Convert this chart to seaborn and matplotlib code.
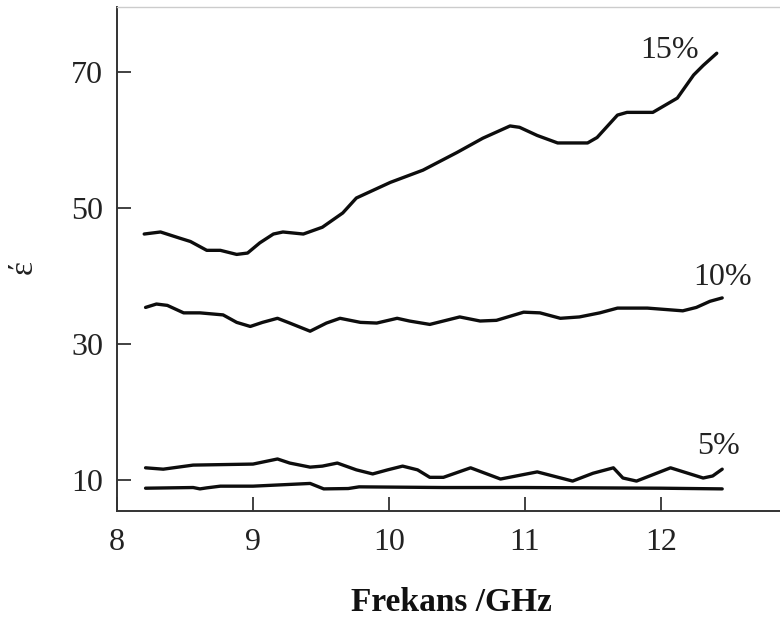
import numpy as np
import pandas as pd
import matplotlib
matplotlib.use("Agg")
import matplotlib.pyplot as plt
import seaborn as sns

# Frequency (GHz) and real permittivity for each filler ratio
freq_15 = [8.20, 8.32, 8.46, 8.54, 8.66, 8.76, 8.88, 8.96, 9.05, 9.15, 9.22, 9.37,
           9.51, 9.66, 9.76, 10.01, 10.25, 10.50, 10.69, 10.89, 10.96, 11.09,
           11.24, 11.46, 11.53, 11.68, 11.75, 11.94, 12.12, 12.24, 12.31, 12.41]
eps_15 = [46.2, 46.5, 45.6, 45.1, 43.8, 43.8, 43.2, 43.4, 44.9, 46.2, 46.5, 46.2,
          47.2, 49.3, 51.5, 53.8, 55.6, 58.2, 60.3, 62.1, 61.9, 60.7,
          59.6, 59.6, 60.4, 63.7, 64.1, 64.1, 66.2, 69.6, 71.0, 72.8]

freq_10 = [8.21, 8.29, 8.37, 8.49, 8.61, 8.78, 8.88, 8.98, 9.07, 9.18, 9.27, 9.42,
           9.54, 9.64, 9.79, 9.91, 10.06, 10.15, 10.30, 10.52, 10.67, 10.79,
           10.99, 11.11, 11.26, 11.40, 11.55, 11.68, 11.90, 12.16, 12.26, 12.36, 12.45]
eps_10 = [35.4, 35.9, 35.7, 34.6, 34.6, 34.3, 33.2, 32.6, 33.2, 33.8, 33.1, 31.9,
          33.1, 33.8, 33.2, 33.1, 33.8, 33.4, 32.9, 34.0, 33.4, 33.5,
          34.7, 34.6, 33.8, 34.0, 34.6, 35.3, 35.3, 34.9, 35.4, 36.3, 36.8]

freq_5 = [8.21, 8.34, 8.56, 9.00, 9.18, 9.27, 9.42, 9.51, 9.62, 9.76, 9.88, 9.99,
          10.10, 10.21, 10.30, 10.40, 10.60, 10.82, 11.09, 11.35, 11.50, 11.65,
          11.72, 11.82, 12.07, 12.31, 12.38, 12.45]
eps_5 = [11.8, 11.6, 12.2, 12.35, 13.1, 12.5, 11.9, 12.05, 12.5, 11.5, 10.9, 11.5,
         12.05, 11.5, 10.4, 10.4, 11.8, 10.15, 11.2, 9.85, 11.0, 11.8,
         10.3, 9.85, 11.8, 10.3, 10.6, 11.6]

freq_0 = [8.21, 8.56, 8.61, 8.66, 8.76, 9.00, 9.42, 9.52, 9.70, 9.78, 10.40,
          11.00, 11.50, 12.00, 12.45]
eps_0 = [8.8, 8.9, 8.7, 8.85, 9.1, 9.1, 9.5, 8.7, 8.75, 9.0, 8.9,
         8.9, 8.85, 8.8, 8.7]

series_names = ["15%", "10%", "5%", "0%"]
x_ticks = [8, 9, 10, 11, 12]
y_ticks = [10, 30, 50, 70]

frames = []
for name, fx, fy in zip(series_names,
                        [freq_15, freq_10, freq_5, freq_0],
                        [eps_15, eps_10, eps_5, eps_0]):
    frames.append(pd.DataFrame({"freq": fx, "eps": fy, "ratio": name}))
df = pd.concat(frames, ignore_index=True)

sns.set_style("ticks")
plt.rcParams["font.family"] = ["Liberation Serif", "DejaVu Serif"]

fig = plt.figure(figsize=(7.8, 6.22), dpi=100)
ax = fig.add_axes([0.15, 0.1785, 0.85, 0.8102])

sns.lineplot(data=df, x="freq", y="eps", units="ratio", estimator=None,
             color="#0d0d0d", linewidth=2.4, sort=False, ax=ax,
             legend=False)
for line in ax.get_lines():
    line.set_solid_joinstyle("round")
    line.set_solid_capstyle("round")

ax.set_xlim(8, 12.875)
ax.set_ylim(5.45, 79.6)
ax.set_xticks(x_ticks)
ax.set_yticks(y_ticks)
ax.tick_params(direction="in", length=10, width=1.3, colors="#333333",
               labelsize=23, labelcolor="#222222", pad=10)
ax.tick_params(axis="x", pad=12)

for side in ["left", "bottom"]:
    ax.spines[side].set_color("#333333")
    ax.spines[side].set_linewidth(1.4)
ax.spines["top"].set_color("#cccccc")
ax.spines["top"].set_linewidth(1.0)
ax.spines["right"].set_visible(False)

# Curve labels
ax.text(12.06, 73.2, "15%", fontsize=23, ha="center", va="center", color="#222222")
ax.text(12.45, 39.85, "10%", fontsize=23, ha="center", va="center", color="#222222")
ax.text(12.42, 15.0, "5%", fontsize=23, ha="center", va="center", color="#222222")

ax.set_xlabel("Frekans /GHz", fontsize=24, fontweight="bold", color="#111111")
ax.xaxis.set_label_coords(0.504, -0.15)
ax.set_ylabel("έ", fontsize=24, color="#222222")
ax.yaxis.set_label_coords(-0.118, 0.484)

fig.savefig("out.png", dpi=100)
